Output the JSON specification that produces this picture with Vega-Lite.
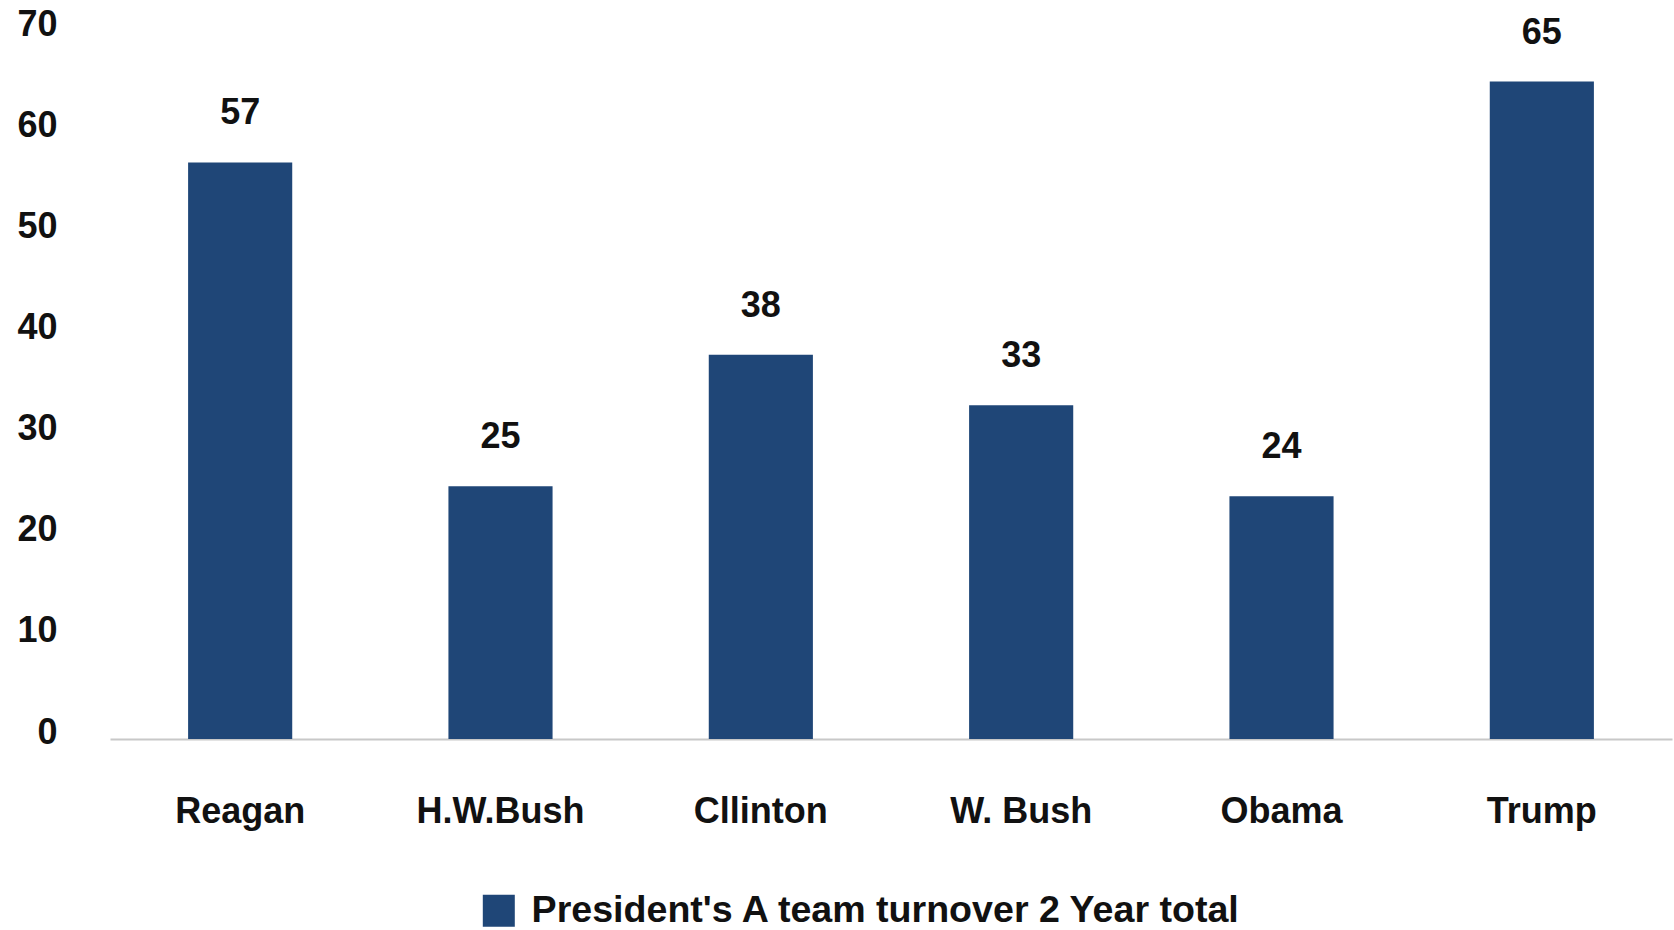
{
  "$schema": "https://vega.github.io/schema/vega-lite/v6.json",
  "autosize": "none",
  "width": 1562,
  "height": 708,
  "padding": {"left": 110, "top": 31, "right": 2, "bottom": 191},
  "background": "white",
  "config": {
    "view": {"stroke": null},
    "font": "Liberation Sans"
  },
  "data": {
    "values": [
      {"president": "Reagan", "turnover": 57, "series": "President's A team turnover 2 Year total"},
      {"president": "H.W.Bush", "turnover": 25, "series": "President's A team turnover 2 Year total"},
      {"president": "Cllinton", "turnover": 38, "series": "President's A team turnover 2 Year total"},
      {"president": "W. Bush", "turnover": 33, "series": "President's A team turnover 2 Year total"},
      {"president": "Obama", "turnover": 24, "series": "President's A team turnover 2 Year total"},
      {"president": "Trump", "turnover": 65, "series": "President's A team turnover 2 Year total"}
    ]
  },
  "encoding": {
    "x": {
      "field": "president",
      "type": "nominal",
      "sort": null,
      "scale": {"paddingInner": 0.6, "paddingOuter": 0.3},
      "axis": {
        "title": null,
        "labelAngle": 0,
        "labelFont": "Liberation Sans",
        "labelFontWeight": "bold",
        "labelFontSize": 36,
        "labelColor": "#111111",
        "labelPadding": 55,
        "ticks": false,
        "domainColor": "#c8c8c8",
        "domainWidth": 2,
        "grid": false
      }
    },
    "y": {
      "field": "turnover",
      "type": "quantitative",
      "scale": {"domain": [0, 70], "nice": false},
      "axis": {
        "title": null,
        "values": [0, 10, 20, 30, 40, 50, 60, 70],
        "labelFont": "Liberation Sans",
        "labelFontWeight": "bold",
        "labelFontSize": 36,
        "labelColor": "#111111",
        "labelPadding": 53,
        "labelOffset": -7,
        "labelBaseline": "middle",
        "ticks": false,
        "domain": false,
        "grid": false
      }
    }
  },
  "layer": [
    {
      "mark": {"type": "bar", "color": "#1f4677"},
      "encoding": {
        "color": {
          "field": "series",
          "type": "nominal",
          "scale": {"range": ["#1f4677"]},
          "legend": {
            "title": null,
            "orient": "none",
            "legendX": 370,
            "legendY": 861,
            "padding": 0,
            "symbolType": "square",
            "symbolSize": 1024,
            "symbolStrokeWidth": 0,
            "labelFont": "Liberation Sans",
            "labelFontWeight": "bold",
            "labelFontSize": 37.6,
            "labelColor": "#111111",
            "labelOffset": 14,
            "labelLimit": 1000
          }
        }
      }
    },
    {
      "mark": {
        "type": "text",
        "baseline": "middle",
        "dy": -49,
        "font": "Liberation Sans",
        "fontWeight": "bold",
        "fontSize": 36,
        "color": "#111111"
      },
      "encoding": {
        "text": {"field": "turnover", "type": "quantitative"}
      }
    }
  ]
}
